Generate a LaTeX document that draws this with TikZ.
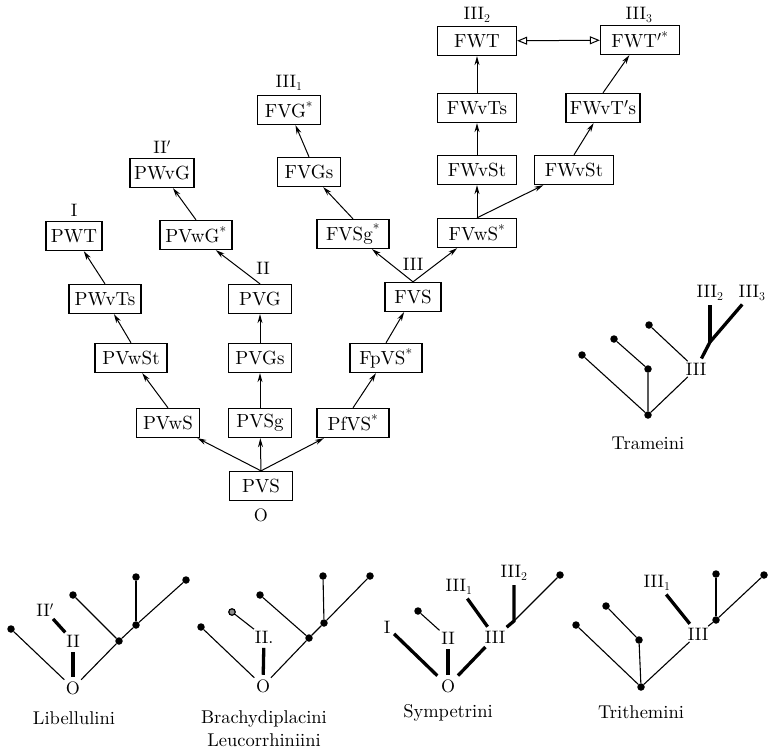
\documentclass[tikz,border=0pt]{standalone}
\usepackage{fontspec}
\setmainfont{lmroman10-regular.otf}
\usetikzlibrary{arrows.meta}
\tikzset{
  box/.style={draw,line width=1.3pt,inner xsep=4pt,inner ysep=3pt,minimum width=63pt,minimum height=29pt,font=\fontsize{19}{22}\selectfont},
  narrowbox/.style={box,minimum width=56pt},
  midbox/.style={box,minimum width=72pt},
  widebox/.style={box,minimum width=79pt},
  tag/.style={inner sep=1.5pt,font=\fontsize{18}{20}\selectfont},
  tribe/.style={inner sep=1pt,align=center,font=\fontsize{18.5}{23}\selectfont},
  bud/.style={circle,fill,inner sep=0pt,minimum size=7.5pt},
  twig/.style={line width=1.1pt},
  limb/.style={line width=3.3pt,shorten <=3pt,shorten >=3pt},
}
\begin{document}
\begin{tikzpicture}[x=1pt,y=-1pt]
      \useasboundingbox (0,0) rectangle (769,750);
      \path
        (261,486) node[box] (pvs) {PVS}
        (168,423) node[box] (pvws) {PVwS}
        (260,423) node[box] (pvsg) {PVSg}
        (353,423) node[midbox] (pfvs) {PfVS\textsuperscript{*}}
        (131,358) node[midbox] (pvwst) {PVwSt}
        (260,358) node[box] (pvgs) {PVGs}
        (386,358) node[midbox] (fpvs) {FpVS\textsuperscript{*}}
        (105,299) node[midbox] (pwvts) {PWvTs}
        (260,299) node[box] (pvg) {PVG}
        (413,297) node[narrowbox] (fvs) {FVS}
        (74,236) node[narrowbox] (pwt) {PWT}
        (196,235) node[midbox] (pvwg) {PVwG\textsuperscript{*}}
        (353,234) node[midbox] (fvsg) {FVSg\textsuperscript{*}}
        (477,233) node[widebox] (fvws) {FVwS\textsuperscript{*}}
        (162,173) node[box] (pwvg) {PWvG}
        (309,172) node[box] (fvgs) {FVGs}
        (477,170) node[widebox] (fwvst) {FWvSt}
        (574,170) node[widebox] (fwvstb) {FWvSt}
        (289,110) node[box] (fvg) {FVG\textsuperscript{*}}
        (477,108) node[widebox] (fwvts) {FWvTs}
        (603,108) node[midbox] (fwvtsb) {FWvT$'$s}
        (477,41) node[widebox] (fwt) {FWT}
        (640,40) node[widebox] (fwtb) {FWT$'$\textsuperscript{*}};
      \path
        (74,210) node[tag] (tI) {I}
        (162,147) node[tag] (tIIp) {II$'$}
        (289,83) node[tag] (tIIIa) {III$_1$}
        (263,268) node[tag] (tII) {II}
        (413,264) node[tag] (tIII) {III}
        (477,15) node[tag] (tIIIb) {III$_2$}
        (639,15) node[tag] (tIIIc) {III$_3$}
        (261,515) node[tag] (tO) {O};
      \begin{scope}[line width=1pt,-{Stealth[length=9pt,width=5pt]}]
        \draw (pvs.north) to (pvws);
        \draw (pvs.north) to (pvsg);
        \draw (pvs.north) to (pfvs);
        \draw (pvws.north) to (pvwst);
        \draw (pvwst.north) to (pwvts);
        \draw (pwvts.north) to (pwt);
        \draw (pvsg.north) to (pvgs);
        \draw (pvgs.north) to (pvg);
        \draw (pvg.north) to (pvwg);
        \draw (pvwg.north) to (pwvg);
        \draw (pfvs.north) to (fpvs);
        \draw (fpvs.north) to (fvs);
        \draw (fvs.north) to (fvsg);
        \draw (fvsg.north) to (fvgs);
        \draw (fvgs.north) to (fvg);
        \draw (fvs.north) to (fvws);
        \draw (fvws.north) to (fwvst);
        \draw (fwvst.north) to (fwvts);
        \draw (fwvts.north) to (fwt);
        \draw (fvws.north) to (fwvstb);
        \draw (fwvstb.north) to (fwvtsb);
        \draw (fwvtsb.north) to (fwtb);
      \end{scope}
      \draw[line width=1pt,{Triangle[open,length=10pt,width=8pt]}-{Triangle[open,length=10pt,width=8pt]}] (fwt) -- (fwtb);
      % Trameini
      \path
        (648,415) node[bud] (m0) {}
        (582,355) node[bud] (m1) {}
        (648,369) node[bud] (m2) {}
        (614,339) node[bud] (m3) {}
        (649,325) node[bud] (m4) {}
        (696,369) node[tag] (mIII) {III}
        (710,293) node[tag] (mIIIb) {III$_2$}
        (752,293) node[tag] (mIIIc) {III$_3$}
        (648,443) node[tribe] (mname) {Trameini};
      \coordinate (mj) at (710,342);
      \draw[twig] (m1) -- (m0) -- (m2) -- (m3);
      \draw[twig] (m0) -- (mIII);
      \draw[twig] (m4) -- (mIII);
      \draw[limb] (mIII) -- (mj) -- (mIIIc);
      \draw[limb,shorten >=0pt] (mIIIb) -- (mj);
      % Libellulini
      \path
        (73,688) node[tag] (lO) {O}
        (73,641) node[tag] (lII) {II}
        (45,610) node[tag] (lIIp) {II$'$}
        (11,629) node[bud] (l1) {}
        (119,641) node[bud] (l2) {}
        (136,625) node[bud] (l3) {}
        (186,580) node[bud] (l4) {}
        (73,595) node[bud] (l5) {}
        (136,577) node[bud] (l6) {}
        (74,718) node[tribe] (lname) {Libellulini};
      \draw[twig] (l1) -- (lO);
      \draw[twig] (lO) -- (l2) -- (l3) -- (l4);
      \draw[twig] (l2) -- (l5);
      \draw[twig] (l3) -- (l6);
      \draw[limb] (lO) -- (lII);
      \draw[limb,shorten <=1pt,shorten >=1pt] (lIIp) -- (lII);
      % Brachydiplacini, Leucorrhiniini
      \path
        (263,686) node[tag] (bO) {O}
        (264,637) node[tag] (bII) {II.}
        (201,627) node[bud] (b1) {}
        (309,638) node[bud] (b2) {}
        (324,623) node[bud] (b3) {}
        (370,576) node[bud] (b4) {}
        (260,595) node[bud] (b5) {}
        (323,576) node[bud] (b6) {}
        (232,612) node[bud,draw,fill=black!45,line width=1.2pt,minimum size=6.5pt] (b7) {}
        (264,728.5) node[tribe] (bname) {Brachydiplacini\\Leucorrhiniini};
      \draw[twig] (b1) -- (bO);
      \draw[twig] (bO) -- (b2) -- (b3) -- (b4);
      \draw[twig] (b2) -- (b5);
      \draw[twig] (b3) -- (b6);
      \draw[twig] (b7) -- (bII);
      \draw[limb] (bO) -- (bII);
      % Sympetrini
      \path
        (448,686) node[tag] (sO) {O}
        (387,627) node[tag] (sI) {I}
        (448,638) node[tag] (sII) {II}
        (495,637) node[tag] (sIII) {III}
        (459,587) node[tag] (sIIIa) {III$_1$}
        (514,573) node[tag] (sIIIb) {III$_2$}
        (418,611) node[bud] (s1) {}
        (560,575) node[bud] (s2) {}
        (448,713) node[tribe] (sname) {Sympetrini};
      \coordinate (sj) at (514,621);
      \draw[limb] (sI) -- (sO);
      \draw[limb] (sO) -- (sII);
      \draw[limb] (sO) -- (sIII);
      \draw[twig] (s1) -- (sII);
      \draw[limb] (sIIIa) -- (sIII);
      \draw[limb] (sIII) -- (sj) -- (sIIIb);
      \draw[twig] (sj) -- (s2);
      % Trithemini
      \path
        (641,687) node[bud] (t0) {}
        (576,625) node[bud] (t1) {}
        (639,640) node[bud] (t2) {}
        (606,606) node[bud] (t3) {}
        (698,634) node[tag] (tnIII) {III}
        (657,583) node[tag] (tnIIIa) {III$_1$}
        (716,620) node[bud] (t4) {}
        (764,575) node[bud] (t5) {}
        (716,574) node[bud] (t6) {}
        (641,712) node[tribe] (tname) {Trithemini};
      \draw[twig] (t1) -- (t0) -- (t2) -- (t3);
      \draw[twig] (t0) -- (tnIII);
      \draw[limb] (tnIIIa) -- (tnIII);
      \draw[twig] (tnIII) -- (t4) -- (t5);
      \draw[twig] (t4) -- (t6);
    \end{tikzpicture}
\end{document}
